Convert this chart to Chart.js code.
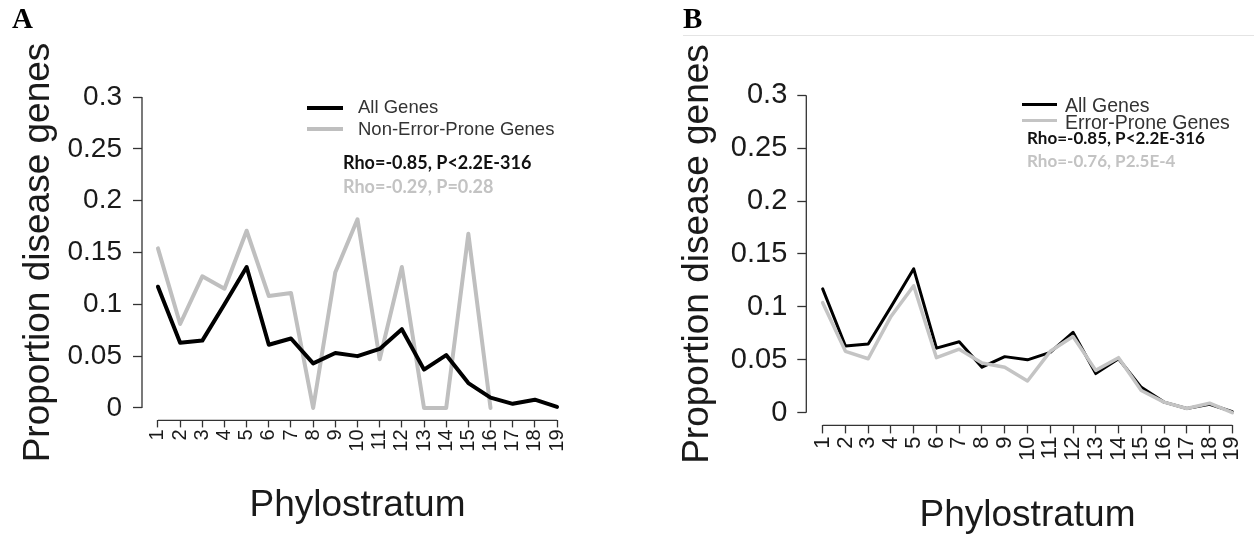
<!DOCTYPE html>
<html>
<head>
<meta charset="utf-8">
<script src="https://cdn.jsdelivr.net/npm/chart.js"></script>
<style>
html, body { margin: 0; padding: 0; background: #fff; overflow: hidden; width: 1254px; height: 537px; }
body { position: relative; font-family: "Liberation Sans", Arial, sans-serif; color: #222; }
canvas { position: absolute; top: 0; }
.t { position: absolute; white-space: nowrap; line-height: 1; }
.rho { position: absolute; white-space: nowrap; line-height: 1; font-family: Lato, "Open Sans", sans-serif; font-weight: bold; }
.sw { position: absolute; height: 4px; }
.panel { position: absolute; line-height: 1; font-family: "Liberation Serif", "Times New Roman", serif; font-weight: bold; font-size: 29px; color: #000; }
</style>
</head>
<body>
<canvas id="chartA" width="640" height="537" style="left:0"></canvas>
<canvas id="chartB" width="620" height="537" style="left:660px"></canvas>

<div class="panel" style="left:12px;top:4px">A</div>
<div class="panel" style="left:683px;top:4px">B</div>
<div style="position:absolute;left:683px;right:0;top:35px;height:1px;background:#e4e4e4"></div>

<!-- legend A -->
<div class="sw" style="left:307px;top:106px;width:36px;background:#000"></div>
<div class="sw" style="left:307px;top:127px;width:36px;background:#bfbfbf"></div>
<div class="t" style="left:358px;top:98px;font-size:18.5px;color:#333">All Genes</div>
<div class="t" style="left:358px;top:120px;font-size:18.5px;color:#333">Non-Error-Prone Genes</div>
<div class="rho" style="left:343px;top:152.5px;font-size:18px;color:#111">Rho=-0.85, P&lt;2.2E-316</div>
<div class="rho" style="left:343px;top:176.5px;font-size:18px;color:#c3c3c3">Rho=-0.29, P=0.28</div>

<!-- legend B -->
<div class="sw" style="left:1022px;top:102.5px;width:35px;height:3px;background:#000"></div>
<div class="sw" style="left:1022px;top:119px;width:35px;height:3px;background:#c4c4c4"></div>
<div class="t" style="left:1065px;top:95.5px;font-size:19.5px;color:#333">All Genes</div>
<div class="t" style="left:1065px;top:112.5px;font-size:19.5px;color:#333">Error-Prone Genes</div>
<div class="rho" style="left:1027px;top:129px;font-size:17px;color:#111">Rho=-0.85, P&lt;2.2E-316</div>
<div class="rho" style="left:1027px;top:152px;font-size:17px;color:#c3c3c3">Rho=-0.76, P2.5E-4</div>

<script>
// phylostratum categories and tick labels
const phylostrata = [1, 2, 3, 4, 5, 6, 7, 8, 9, 10, 11, 12, 13, 14, 15, 16, 17, 18, 19];
const xTickLabels = ["1", "2", "3", "4", "5", "6", "7", "8", "9", "10", "11", "12", "13", "14", "15", "16", "17", "18", "19"];
const yTicks = [0, 0.05, 0.1, 0.15, 0.2, 0.25, 0.3];
const yTickLabels = ["0", "0.05", "0.1", "0.15", "0.2", "0.25", "0.3"];

// proportion of disease genes per phylostratum
const allGenes = [0.117, 0.063, 0.065, 0.100, 0.136, 0.061, 0.067, 0.043, 0.053, 0.050, 0.057, 0.076, 0.037, 0.051, 0.024, 0.010, 0.004, 0.008, 0.001];
const nonErrorProne = [0.154, 0.081, 0.127, 0.115, 0.171, 0.108, 0.111, 0, 0.131, 0.182, 0.047, 0.136, 0, 0, 0.168, 0];
const errorProne = [0.104, 0.058, 0.051, 0.091, 0.120, 0.052, 0.060, 0.047, 0.043, 0.030, 0.058, 0.072, 0.040, 0.052, 0.021, 0.010, 0.004, 0.009, 0.000];

const toPoints = (vals) => vals.map((v, i) => ({ x: phylostrata[i], y: v }));

// R style axes: lines run only from first to last tick
const rAxisLines = {
    id: "rAxisLines",
    afterDraw(chart) {
        const { ctx, chartArea, scales } = chart;
        const x = scales.x, y = scales.y;
        ctx.save();
        ctx.strokeStyle = "#333";
        ctx.lineWidth = 1.3;
        ctx.beginPath();
        ctx.moveTo(chartArea.left, y.getPixelForValue(yTicks[0]));
        ctx.lineTo(chartArea.left, y.getPixelForValue(yTicks[yTicks.length - 1]));
        ctx.moveTo(x.getPixelForValue(phylostrata[0]), chartArea.bottom);
        ctx.lineTo(x.getPixelForValue(phylostrata[phylostrata.length - 1]), chartArea.bottom);
        ctx.stroke();
        ctx.restore();
    }
};

function makePanel(id, datasets, g) {
    return new Chart(document.getElementById(id), {
        type: "line",
        data: { datasets: datasets },
        plugins: [rAxisLines],
        options: {
            responsive: false,
            animation: false,
            layout: { padding: { top: g.padTop, right: g.padRight, bottom: 0, left: 0 } },
            plugins: { legend: { display: false }, tooltip: { enabled: false } },
            elements: { point: { radius: 0 }, line: { tension: 0, borderJoinStyle: "round", borderCapStyle: "round" } },
            scales: {
                x: {
                    type: "linear",
                    min: 0.28,
                    max: 19.72,
                    afterBuildTicks: (s) => { s.ticks = phylostrata.map((v) => ({ value: v })); },
                    afterFit: (s) => { s.height = g.xHeight; },
                    border: { display: false },
                    grid: { drawOnChartArea: false, drawTicks: true, tickLength: g.xTickLen, tickColor: "#333", tickWidth: 1.3 },
                    ticks: {
                        autoSkip: false,
                        minRotation: 90,
                        maxRotation: 90,
                        padding: g.xTickPad,
                        color: "#1a1a1a",
                        font: { family: "Liberation Sans", size: g.xTickFont },
                        callback: (v, i) => xTickLabels[i]
                    },
                    title: {
                        display: true,
                        text: "Phylostratum",
                        color: "#1a1a1a",
                        font: { family: "Liberation Sans", size: 37, lineHeight: 1 },
                        padding: { top: 0, bottom: g.xTitlePad }
                    }
                },
                y: {
                    min: -0.012,
                    max: 0.312,
                    afterBuildTicks: (s) => { s.ticks = yTicks.map((v) => ({ value: v })); },
                    afterFit: (s) => { s.width = g.yWidth; },
                    border: { display: false },
                    grid: { drawOnChartArea: false, drawTicks: true, tickLength: 9, tickColor: "#333", tickWidth: 1.3 },
                    ticks: {
                        padding: g.yTickPad,
                        color: "#1a1a1a",
                        font: { family: "Liberation Sans", size: g.yTickFont },
                        callback: (v, i) => yTickLabels[i]
                    },
                    title: {
                        display: true,
                        text: "Proportion disease genes",
                        color: "#1a1a1a",
                        font: { family: "Liberation Sans", size: 37, lineHeight: 1 },
                        padding: { top: g.yTitlePad, bottom: 0 }
                    }
                }
            }
        }
    });
}

makePanel("chartA", [
    { label: "All Genes", data: toPoints(allGenes), borderColor: "#000", borderWidth: 4 },
    { label: "Non-Error-Prone Genes", data: toPoints(nonErrorProne), borderColor: "#bfbfbf", borderWidth: 4 }
], { padTop: 84.6, padRight: 67, yWidth: 142, xHeight: 116.6, xTickLen: 7, xTickPad: 2, xTickFont: 20, yTickPad: 11, yTickFont: 28, xTitlePad: 12.5, yTitlePad: 20.5 });

makePanel("chartB", [
    { label: "All Genes", data: toPoints(allGenes), borderColor: "#000", borderWidth: 3, order: 1 },
    { label: "Error-Prone Genes", data: toPoints(errorProne), borderColor: "#c4c4c4", borderWidth: 3.5, order: 0 }
], { padTop: 82.6, padRight: 31.3, yWidth: 146.3, xHeight: 111.6, xTickLen: 8, xTickPad: 3, xTickFont: 22, yTickPad: 10, yTickFont: 29, xTitlePad: 2.5, yTitlePad: 19.5 });
</script>
</body>
</html>
